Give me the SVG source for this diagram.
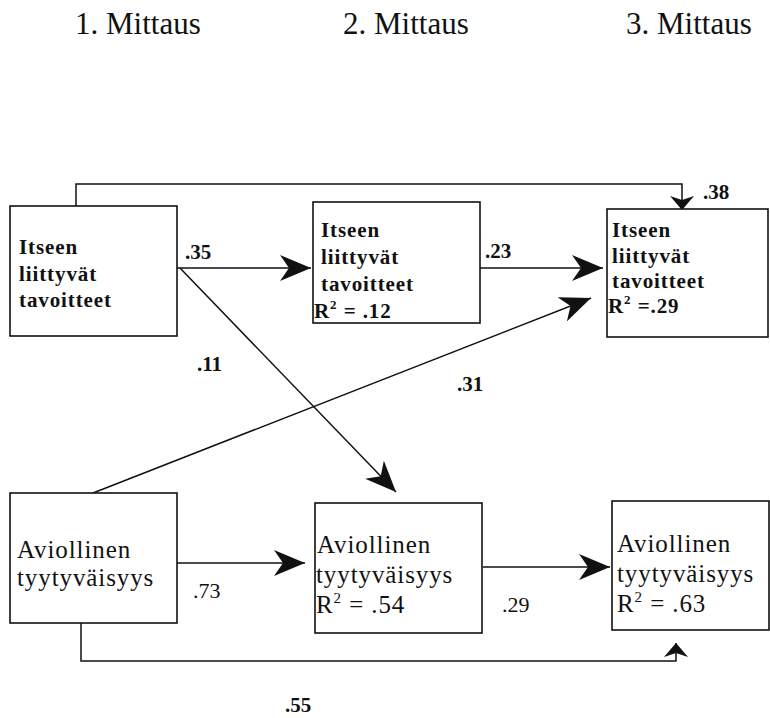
<svg xmlns="http://www.w3.org/2000/svg" width="770" height="718" viewBox="0 0 770 718">
  <style>
    text { font-family: 'Liberation Serif', 'Times New Roman', Times, 'DejaVu Serif', serif; fill: #111; }
    .box { fill: #fff; stroke: #111; stroke-width: 1.6; }
    .edge { fill: none; stroke: #111; stroke-width: 1.5; }
    .head { font-size: 31px; }
    .tb { font-size: 21px; font-weight: bold; letter-spacing: 0.9px; }
    .bb { font-size: 25px; letter-spacing: 0.9px; }
    .lb { font-size: 21px; font-weight: bold; }
    .lr { font-size: 22px; }
  </style>
  <defs>
    <marker id="big" markerUnits="userSpaceOnUse" markerWidth="32" markerHeight="26" viewBox="0 0 32 26" refX="31" refY="13" orient="auto">
      <path d="M0,0 L31,13 L0,26 L9,13 Z" fill="#111"/>
    </marker>
    <marker id="small" markerUnits="userSpaceOnUse" markerWidth="16" markerHeight="24" viewBox="0 0 16 24" refX="14" refY="12" orient="auto">
      <path d="M0,0 L14,12 L0,24 L4,12 Z" fill="#111"/>
    </marker>
  </defs>

  <!-- column headings -->
  <text class="head" x="75" y="34">1. Mittaus</text>
  <text class="head" x="343" y="34">2. Mittaus</text>
  <text class="head" x="626" y="34">3. Mittaus</text>

  <!-- connectors -->
  <g id="connectors">
    <path class="edge" d="M76,206 V184 H682 V210" marker-end="url(#small)"/>
    <line class="edge" x1="177" y1="268" x2="311" y2="268" marker-end="url(#big)"/>
    <line class="edge" x1="480" y1="268" x2="603" y2="268" marker-end="url(#big)"/>
    <line class="edge" x1="180" y1="268" x2="396" y2="492" marker-end="url(#big)"/>
    <line class="edge" x1="93" y1="493" x2="591" y2="298" marker-end="url(#big)"/>
    <line class="edge" x1="177" y1="563" x2="305" y2="563" marker-end="url(#big)"/>
    <line class="edge" x1="483" y1="567" x2="610" y2="567" marker-end="url(#big)"/>
    <path class="edge" d="M81,623 V661 H676 V643" marker-end="url(#small)"/>
  </g>

  <!-- path coefficients -->
  <g id="coefficients">
    <text class="lb" x="185" y="259">.35</text>
    <text class="lb" x="485" y="258">.23</text>
    <text class="lb" x="703" y="199">.38</text>
    <text class="lb" x="197" y="371">.11</text>
    <text class="lb" x="457" y="391">.31</text>
    <text class="lr" x="193" y="598">.73</text>
    <text class="lr" x="502" y="612">.29</text>
    <text class="lb" x="285" y="712">.55</text>
  </g>

  <!-- time 1 -->
  <g id="goals-1">
    <rect class="box" x="10" y="206" width="167" height="130"/>
    <text class="tb" x="19" y="254">Itseen</text>
    <text class="tb" x="19" y="281">liittyvät</text>
    <text class="tb" x="19" y="307">tavoitteet</text>
  </g>
  <g id="marital-1">
    <rect class="box" x="10" y="493" width="167" height="130"/>
    <text class="bb" x="17" y="558">Aviollinen</text>
    <text class="bb" x="17" y="586">tyytyväisyys</text>
  </g>

  <!-- time 2 -->
  <g id="goals-2">
    <rect class="box" x="313" y="202" width="167" height="121"/>
    <text class="tb" x="321" y="237">Itseen</text>
    <text class="tb" x="321" y="264">liittyvät</text>
    <text class="tb" x="321" y="291">tavoitteet</text>
    <text class="tb" x="314" y="318">R<tspan font-size="13" dy="-9">2</tspan><tspan dy="9"> = .12</tspan></text>
  </g>
  <g id="marital-2">
    <rect class="box" x="315" y="503" width="167" height="130"/>
    <text class="bb" x="317" y="553">Aviollinen</text>
    <text class="bb" x="316" y="583">tyytyväisyys</text>
    <text class="bb" x="316" y="613">R<tspan font-size="15" dy="-10">2</tspan><tspan dy="10"> = .54</tspan></text>
  </g>

  <!-- time 3 -->
  <g id="goals-3">
    <rect class="box" x="607" y="209" width="161" height="128"/>
    <text class="tb" x="612" y="237">Itseen</text>
    <text class="tb" x="612" y="263">liittyvät</text>
    <text class="tb" x="612" y="288">tavoitteet</text>
    <text class="tb" x="608" y="313">R<tspan font-size="13" dy="-9">2</tspan><tspan dy="9"> =.29</tspan></text>
  </g>
  <g id="marital-3">
    <rect class="box" x="612" y="501" width="157" height="129"/>
    <text class="bb" x="617" y="552">Aviollinen</text>
    <text class="bb" x="617" y="582">tyytyväisyys</text>
    <text class="bb" x="617" y="612">R<tspan font-size="15" dy="-10">2</tspan><tspan dy="10"> = .63</tspan></text>
  </g>
</svg>
